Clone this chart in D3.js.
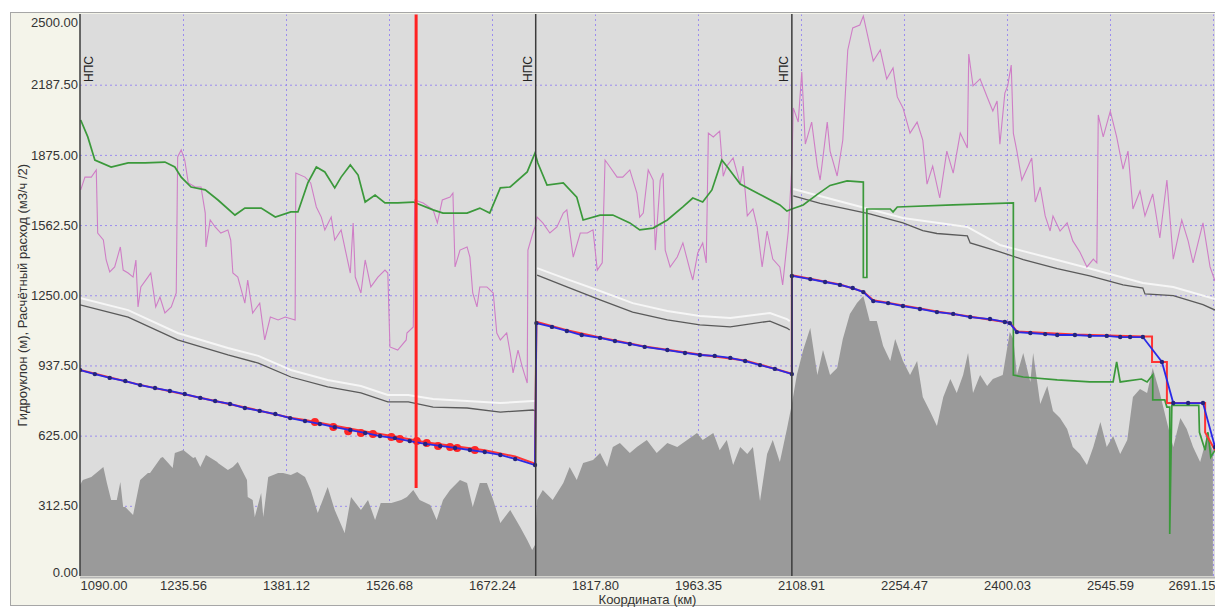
<!DOCTYPE html>
<html>
<head>
<meta charset="utf-8">
<script src="https://d3js.org/d3.v7.min.js"></script>
<style>
	body { margin: 0; background: #fff; }
	text { font-family: 'Liberation Sans', Arial, sans-serif; }
</style>
</head>
<body>
<div id="chart-area"></div>
<script>

//**************** Data *****************//

// axis ticks
let xTicks = [1090.00, 1235.56, 1381.12, 1526.68, 1672.24, 1817.80, 1963.35, 2108.91, 2254.47, 2400.03, 2545.59, 2691.15];
let yTicks = [0, 312.5, 625, 937.5, 1250, 1562.5, 1875, 2187.5, 2500];

// stations (km) and the cursor
let stations = [1090, 1734, 2096];
let cursorKm = 1565;
let cursorLow = 392;

// terrain profile [km, m]
let profile = [[1090,405],[1094,427],[1106,441],[1118,472],[1123,485],[1128,414],[1134,338],[1142,338],[1147,419],[1151,307],[1154,307],[1165,272],[1175,427],[1186,459],[1189,459],[1204,525],[1207,530],[1221,481],[1224,548],[1236,561],[1250,525],[1253,530],[1260,485],[1268,539],[1284,508],[1285,503],[1299,472],[1306,485],[1313,508],[1326,427],[1327,352],[1334,338],[1337,263],[1346,370],[1349,263],[1356,441],[1370,459],[1377,459],[1388,450],[1397,463],[1408,441],[1416,383],[1426,280],[1440,396],[1450,294],[1464,191],[1473,352],[1487,294],[1497,338],[1507,249],[1515,325],[1530,325],[1544,338],[1552,352],[1561,383],[1570,338],[1585,316],[1594,249],[1603,338],[1613,383],[1627,427],[1637,414],[1645,307],[1655,414],[1665,414],[1674,338],[1684,236],[1698,294],[1712,218],[1722,160],[1729,116],[1733,138],[1736,338],[1744,383],[1758,338],[1773,414],[1782,485],[1792,427],[1801,503],[1815,516],[1825,548],[1835,485],[1843,574],[1853,592],[1867,548],[1877,574],[1891,606],[1905,548],[1920,592],[1934,574],[1948,606],[1962,637],[1970,606],[1985,637],[1994,560],[2004,606],[2013,494],[2023,574],[2033,543],[2041,574],[2051,334],[2061,543],[2069,606],[2079,508],[2089,655],[2096,766],[2103,895],[2112,1006],[2122,1104],[2132,895],[2140,1006],[2150,895],[2160,926],[2168,1055],[2178,1167],[2188,1215],[2197,1247],[2206,1135],[2216,1135],[2225,1024],[2235,957],[2242,1055],[2253,957],[2263,895],[2273,957],[2281,797],[2291,735],[2301,668],[2310,797],[2320,877],[2329,815],[2338,895],[2345,993],[2352,815],[2362,895],[2372,846],[2380,877],[2394,895],[2404,1086],[2409,1055],[2414,895],[2423,993],[2433,864],[2437,993],[2447,766],[2457,846],[2465,735],[2475,703],[2485,655],[2493,574],[2503,543],[2513,494],[2522,574],[2532,686],[2541,574],[2550,623],[2560,543],[2570,606],[2578,797],[2588,833],[2598,815],[2606,926],[2616,815],[2626,686],[2635,574],[2645,703],[2654,655],[2663,574],[2673,508],[2683,623],[2691,557]];

// calculated flow (m3/h /2)
let flow = [[1091,1719],[1097,1776],[1106,1776],[1113,1808],[1115,1527],[1123,1496],[1127,1407],[1132,1354],[1139,1376],[1147,1465],[1151,1362],[1158,1349],[1165,1331],[1169,1407],[1172,1198],[1176,1287],[1186,1331],[1190,1349],[1197,1198],[1203,1242],[1210,1171],[1219,1198],[1226,1260],[1228,1866],[1233,1897],[1238,1852],[1243,1750],[1253,1732],[1261,1732],[1267,1616],[1268,1465],[1274,1585],[1281,1554],[1289,1527],[1299,1541],[1303,1496],[1306,1349],[1313,1331],[1323,1215],[1327,1318],[1334,1171],[1344,1215],[1351,1051],[1359,1153],[1370,1140],[1380,1153],[1394,1140],[1395,1794],[1408,1776],[1416,1750],[1424,1643],[1431,1598],[1436,1541],[1445,1598],[1450,1496],[1459,1541],[1465,1451],[1472,1349],[1476,1572],[1479,1331],[1487,1260],[1493,1407],[1501,1287],[1511,1331],[1521,1362],[1525,1349],[1528,1020],[1539,1006],[1551,1051],[1552,1082],[1561,1109],[1563,1674],[1575,1661],[1589,1630],[1595,1572],[1602,1674],[1613,1687],[1617,1705],[1620,1376],[1627,1451],[1637,1465],[1641,1420],[1645,1260],[1651,1198],[1655,1287],[1665,1287],[1674,1260],[1679,1082],[1684,1051],[1693,1082],[1698,993],[1702,904],[1709,1006],[1715,931],[1722,859],[1723,1451],[1730,1527],[1733,1554],[1736,1598],[1744,1572],[1754,1527],[1764,1554],[1773,1616],[1778,1630],[1787,1420],[1797,1527],[1807,1527],[1815,1541],[1821,1362],[1828,1394],[1832,1852],[1839,1821],[1849,1776],[1857,1776],[1867,1808],[1877,1705],[1881,1598],[1886,1616],[1893,1808],[1900,1763],[1903,1451],[1910,1763],[1914,1794],[1917,1451],[1924,1376],[1934,1420],[1942,1483],[1952,1362],[1956,1318],[1963,1438],[1970,1483],[1975,1394],[1978,1972],[1985,1955],[1994,1981],[1999,1780],[2004,1825],[2013,1861],[2023,1745],[2027,1825],[2033,1603],[2041,1634],[2047,1554],[2054,1376],[2061,1536],[2069,1411],[2079,1376],[2083,1296],[2091,1536],[2096,1825],[2098,2084],[2105,2021],[2110,2244],[2115,1923],[2124,2021],[2132,1825],[2136,1763],[2146,2021],[2150,1892],[2160,1781],[2168,1941],[2175,2342],[2182,2440],[2192,2453],[2197,2493],[2202,2422],[2211,2293],[2221,2342],[2230,2213],[2239,2262],[2245,2133],[2253,2084],[2263,1972],[2273,2021],[2281,1941],[2287,1745],[2295,1825],[2305,1683],[2315,1892],[2324,1794],[2334,1972],[2344,1906],[2346,2324],[2352,2182],[2362,2213],[2372,2133],[2380,2070],[2386,2115],[2390,1923],[2397,2150],[2401,2182],[2406,2275],[2409,1972],[2414,1892],[2421,1763],[2428,1812],[2435,1861],[2440,1665],[2447,1732],[2454,1603],[2461,1536],[2465,1603],[2475,1536],[2485,1572],[2493,1492],[2503,1443],[2513,1376],[2522,1411],[2527,1394],[2529,2053],[2536,1955],[2546,2070],[2555,1955],[2564,1812],[2571,1892],[2578,1634],[2588,1714],[2595,1603],[2606,1701],[2616,1505],[2626,1763],[2635,1411],[2647,1585],[2656,1492],[2663,1394],[2677,1572],[2687,1376],[2694,1313]];

// green line
let greenLine = [[1091,2030],[1101,1955],[1111,1852],[1134,1821],[1158,1839],[1182,1839],[1210,1843],[1224,1821],[1233,1776],[1247,1732],[1267,1719],[1285,1674],[1309,1607],[1323,1638],[1346,1638],[1366,1598],[1388,1621],[1398,1621],[1412,1750],[1424,1821],[1436,1799],[1450,1728],[1459,1776],[1472,1830],[1483,1785],[1493,1665],[1507,1696],[1521,1661],[1539,1661],[1561,1665],[1589,1630],[1603,1616],[1637,1616],[1655,1638],[1669,1616],[1684,1728],[1698,1732],[1722,1799],[1733,1883],[1737,1839],[1750,1741],[1773,1750],[1792,1687],[1801,1585],[1825,1607],[1843,1607],[1867,1572],[1881,1541],[1900,1549],[1920,1585],[1942,1643],[1956,1683],[1970,1665],[1983,1719],[1997,1852],[2006,1817],[2023,1745],[2051,1699],[2079,1652],[2089,1625],[2096,1634],[2112,1652],[2132,1699],[2150,1739],[2174,1759],[2197,1754],[2197,1329],[2202,1329],[2202,1634],[2235,1634],[2239,1621],[2245,1643],[2324,1652],[2409,1661],[2409,895],[2423,886],[2471,873],[2517,864],[2550,864],[2555,953],[2560,864],[2590,877],[2598,864],[2606,895],[2606,784],[2623,784],[2626,752],[2630,752],[2630,187],[2633,760],[2671,760],[2672,640],[2680,560],[2684,640],[2688,530],[2694,560]];

// limit lines, one array per section
let limitGray = [
	[[1090,1207],[1158,1153],[1228,1051],[1299,984],[1342,948],[1388,886],[1440,842],[1487,815],[1525,775],[1554,775],[1589,752],[1637,748],[1684,730],[1730,739],[1734,735]],
	[[1736,1340],[1778,1287],[1825,1229],[1871,1175],[1920,1140],[1966,1118],[2009,1109],[2065,1135],[2089,1104],[2093,1095]],
	[[2098,1692],[2136,1659],[2206,1612],[2253,1572],[2281,1538],[2301,1525],[2344,1514],[2348,1483],[2390,1443],[2423,1409],[2471,1369],[2517,1336],[2564,1296],[2592,1282],[2595,1256],[2635,1248],[2677,1208],[2694,1184]]
];
let limitWhite = [
	[[1090,1238],[1158,1184],[1228,1082],[1299,1015],[1342,980],[1388,917],[1440,873],[1487,846],[1525,806],[1554,806],[1589,788],[1637,779],[1684,770],[1730,779],[1734,779]],
	[[1736,1371],[1778,1322],[1825,1269],[1871,1215],[1920,1180],[1966,1158],[2009,1149],[2065,1171],[2089,1144],[2093,1135]],
	[[2098,1723],[2253,1594],[2344,1554],[2390,1474],[2517,1369],[2592,1305],[2635,1287],[2694,1233]]
];

// hydraulic gradient, calculated (blue) and measured (red)
let blueLine = [[1090,917],[1111,899],[1132,882],[1154,868],[1175,850],[1196,837],[1217,824],[1238,810],[1260,793],[1281,779],[1302,766],[1323,748],[1344,735],[1366,721],[1387,703],[1408,690],[1429,677],[1450,663],[1472,650],[1493,637],[1514,623],[1535,614],[1556,601],[1578,588],[1599,579],[1620,570],[1641,561],[1662,552],[1684,539],[1705,521],[1733,494],
	[1735,1126],[1757,1109],[1778,1091],[1799,1073],[1825,1060],[1846,1046],[1867,1033],[1888,1020],[1920,1006],[1945,993],[1966,984],[1987,980],[2009,971],[2030,957],[2051,939],[2072,922],[2096,899],
	[2096,1336],[2122,1322],[2143,1309],[2164,1296],[2182,1282],[2197,1264],[2211,1224],[2232,1215],[2253,1202],[2277,1189],[2301,1175],[2324,1167],[2348,1153],[2376,1144],[2397,1131],[2404,1126],[2414,1086],[2433,1082],[2454,1077],[2471,1073],[2496,1073],[2517,1069],[2541,1069],[2560,1064],[2574,1064],[2592,1064],[2619,953],[2635,770],[2656,770],[2677,770],[2694,574]];

let redLine = [[1090,917],[1175,851],[1260,794],[1344,736],[1387,705],[1408,695],[1450,669],[1493,643],[1535,621],[1578,596],[1620,578],[1662,560],[1705,532],[1733,500],
	[1735,1132],[1778,1094],[1825,1062],[1888,1022],[1966,986],[2030,960],[2096,901],
	[2096,1339],[2164,1298],[2197,1266],[2211,1228],[2301,1178],[2404,1128],[2414,1089],[2496,1075],[2592,1066],[2605,1066],[2605,953],[2626,953],[2626,770],[2680,770],[2680,640],[2694,560]];

let redDots = [[1422,686],[1448,663],[1469,645],[1487,637],[1504,632],[1530,619],[1542,610],[1566,601],[1580,592],[1596,579],[1613,574],[1623,570],[1648,561]];


//**************** Canvas *****************//

let margin = { left:80, right:0, top:14.5, bottom:31 };

let width = 1215,
	height = 607;

let svg = d3.select('#chart-area').append('svg')
	.attr('width', width)
	.attr('height', height)
	.style('display', 'block');

// outer panel
svg.append('rect')
	.attr('x', 10.5).attr('y', 12.5)
	.attr('width', width - 10).attr('height', height - 14)
	.attr('fill', '#f4f4ea')
	.attr('stroke', '#a6a6a6');

let plotBottom = height - margin.bottom;

svg.append('rect')
	.attr('x', margin.left).attr('y', 14)
	.attr('width', width - margin.left).attr('height', plotBottom - 14)
	.attr('fill', '#dcdcdc');

svg.append('clipPath').attr('id', 'plot-clip')
	.append('rect')
	.attr('x', margin.left).attr('y', 14)
	.attr('width', width - margin.left).attr('height', plotBottom - 14);


//**************** Scales & Axes *****************//

let x = d3.scaleLinear()
	.domain([1090, 2691.15])
	.range([margin.left, 1213]);

let y = d3.scaleLinear()
	.domain([0, 2500])
	.range([plotBottom, margin.top]);

// grid
let xGrid = svg.append('g')
	.attr('transform', 'translate(0, ' + plotBottom + ')')
	.call(d3.axisBottom(x).tickValues(xTicks.slice(1)).tickSize(-(plotBottom - margin.top)).tickFormat(''));

let yGrid = svg.append('g')
	.attr('transform', 'translate(' + margin.left + ', 0)')
	.call(d3.axisLeft(y).tickValues(yTicks.slice(1, -1)).tickSize(-(width - margin.left)).tickFormat(''));

[xGrid, yGrid].forEach(gr => {
	gr.select('.domain').remove();
	gr.selectAll('line')
		.attr('stroke', '#9b8cee')
		.attr('stroke-width', 1)
		.attr('stroke-dasharray', '2,3');
});

let plot = svg.append('g').attr('clip-path', 'url(#plot-clip)');


//**************** Marks *****************//

// terrain
plot.append('path')
	.datum(profile)
	.attr('fill', '#9a9a9a')
	.attr('d', d3.area()
		.x(d => x(d[0]))
		.y0(y(0))
		.y1(d => y(d[1])));

let line = d3.line()
	.x(d => x(d[0]))
	.y(d => y(d[1]));

// limit lines
limitWhite.forEach(seg => {
	plot.append('path').datum(seg)
		.attr('fill', 'none').attr('stroke', '#f6f6f6').attr('stroke-width', 2)
		.attr('d', line);
});
limitGray.forEach(seg => {
	plot.append('path').datum(seg)
		.attr('fill', 'none').attr('stroke', '#5a5a5a').attr('stroke-width', 1.3)
		.attr('d', line);
});

// flow
plot.append('path').datum(flow)
	.attr('fill', 'none').attr('stroke', '#cf7ec6').attr('stroke-width', 1.1)
	.attr('d', line);

// green
plot.append('path').datum(greenLine)
	.attr('fill', 'none').attr('stroke', '#3b993b').attr('stroke-width', 1.7)
	.attr('d', line);

// red measured
plot.append('path').datum(redLine)
	.attr('fill', 'none').attr('stroke', '#ff3434').attr('stroke-width', 2)
	.attr('d', line);

plot.selectAll('.red-dot')
	.data(redDots)
	.enter().append('circle')
		.attr('class', 'red-dot')
		.attr('cx', d => x(d[0]))
		.attr('cy', d => y(d[1]))
		.attr('r', 4)
		.attr('fill', '#ff2626');

// blue calculated
plot.append('path').datum(blueLine)
	.attr('fill', 'none').attr('stroke', '#2a2ae6').attr('stroke-width', 1.8)
	.attr('d', line);

plot.selectAll('.blue-dot')
	.data(blueLine)
	.enter().append('circle')
		.attr('class', 'blue-dot')
		.attr('cx', d => x(d[0]))
		.attr('cy', d => y(d[1]))
		.attr('r', 2.2)
		.attr('fill', '#25257c');

// cursor
plot.append('line')
	.attr('x1', x(cursorKm)).attr('x2', x(cursorKm))
	.attr('y1', y(2500)).attr('y2', y(cursorLow))
	.attr('stroke', '#ff2222')
	.attr('stroke-width', 3);

// stations
stations.forEach((s, i) => {
	svg.append('line')
		.attr('x1', x(s)).attr('x2', x(s))
		.attr('y1', 14).attr('y2', plotBottom)
		.attr('stroke', '#3c3c3c')
		.attr('stroke-width', 1.5);
	let tx = i === 0 ? x(s) + 13 : x(s) - 4;
	svg.append('text')
		.attr('transform', 'translate(' + tx + ', 69) rotate(-90)')
		.attr('text-anchor', 'middle')
		.attr('font-size', '12px')
		.attr('fill', '#222')
		.text('НПС');
});

// bottom border of the plot
svg.append('line')
	.attr('x1', margin.left).attr('x2', width)
	.attr('y1', plotBottom + 1.5).attr('y2', plotBottom + 1.5)
	.attr('stroke', '#b4b4b4')
	.attr('stroke-width', 2);


//**************** Labels *****************//

let xAxisGroup = svg.append('g')
	.attr('transform', 'translate(0, ' + plotBottom + ')')
	.call(d3.axisBottom(x).tickValues(xTicks).tickSize(0).tickPadding(5)
		.tickFormat(d => d.toFixed(2)));

let yAxisGroup = svg.append('g')
	.attr('transform', 'translate(' + margin.left + ', 0)')
	.call(d3.axisLeft(y).tickValues(yTicks).tickSize(0).tickPadding(2)
		.tickFormat(d => d.toFixed(2)));

[xAxisGroup, yAxisGroup].forEach(ax => {
	ax.select('.domain').remove();
	ax.selectAll('text')
		.attr('font-size', '13px')
		.attr('font-family', "'Liberation Sans', Arial, sans-serif")
		.attr('fill', '#333');
});

let xLabels = xAxisGroup.selectAll('text');
xLabels.filter((d, i) => i === 0).attr('text-anchor', 'start');
xLabels.filter((d, i) => i === xTicks.length - 1).attr('text-anchor', 'end').attr('x', 2);

let yLabels = yAxisGroup.selectAll('text');
yLabels.filter(d => d === 2500).attr('dy', '0.95em');
yLabels.filter(d => d === 0).attr('dy', '0.05em');

svg.append('text')
	.attr('x', (margin.left + width) / 2)
	.attr('y', 604)
	.attr('font-size', '13px')
	.attr('text-anchor', 'middle')
	.attr('fill', '#333')
	.text('Координата (км)');

svg.append('text')
	.attr('transform', 'translate(27, ' + ((margin.top + plotBottom) / 2) + ') rotate(-90)')
	.attr('font-size', '13px')
	.attr('text-anchor', 'middle')
	.attr('fill', '#333')
	.text('Гидроуклон (м), Расчётный расход (м3/ч /2)');

</script>
</body>
</html>
